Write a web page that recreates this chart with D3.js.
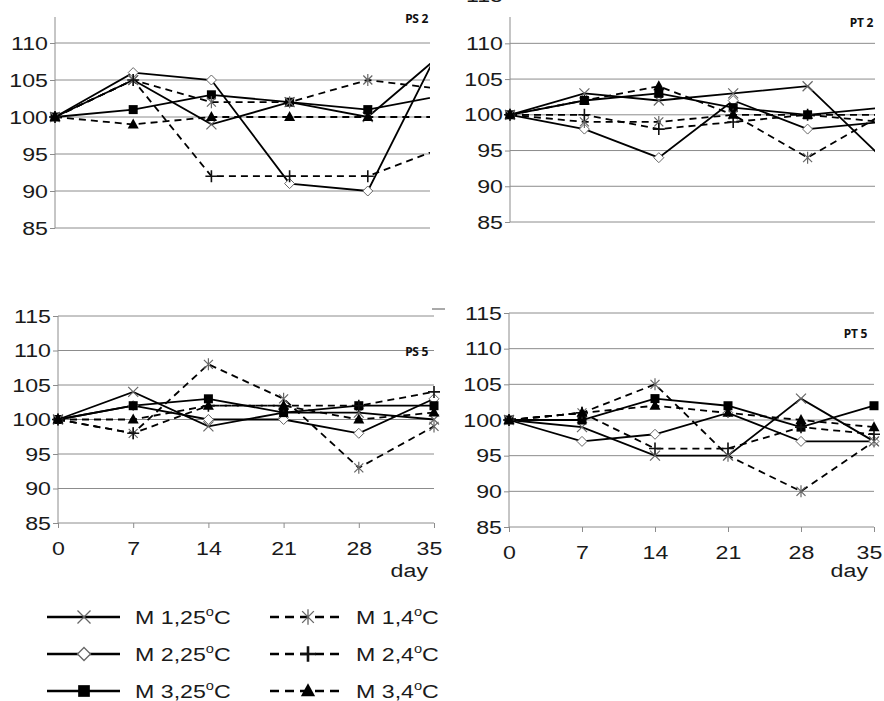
<!DOCTYPE html>
<html>
<head>
<meta charset="utf-8">
<script src="https://cdn.jsdelivr.net/npm/d3@7"></script>
<style>
  body { margin: 0; background: #fff; }
  svg { display: block; font-family: "Liberation Sans", Arial, sans-serif; }
</style>
</head>
<body>
<div id="chart-area"></div>
<script>
// days on the x axis
const days = [0, 7, 14, 21, 28, 35]
const seriesNames = ["M 1,25", "M 2,25", "M 3,25", "M 1,4", "M 2,4", "M 3,4"]
const yTicksTop = [85, 90, 95, 100, 105, 110]
const yTicksBottom = [85, 90, 95, 100, 105, 110, 115]

// one row per series, same order as seriesNames
const ps2Values = [
  [100, 105, 99, 102, 100, 109],
  [100, 106, 105, 91, 90, 111],
  [100, 101, 103, 102, 101, 103],
  [100, 105, 102, 102, 105, 103.7],
  [100, 105, 92, 92, 92, 96],
  [100, 99, 100, 100, 100, 100]
]
const pt2Values = [
  [100, 103, 102, 103, 104, 94],
  [100, 98, 94, 102, 98, 99],
  [100, 102, 103, 101, 100, 101],
  [100, 99, 99, 100, 94, 100],
  [100, 100, 98, 99, 100, 99],
  [100, 102, 104, 100, 100, 100]
]
const ps5Values = [
  [100, 104, 99, 101, 101, 100],
  [100, 102, 100, 100, 98, 103],
  [100, 102, 103, 101, 102, 102],
  [100, 98, 108, 103, 93, 99],
  [100, 98, 102, 102, 102, 104],
  [100, 100, 102, 102, 100, 101]
]
const pt5Values = [
  [100, 99, 95, 95, 103, 97],
  [100, 97, 98, 101, 97, 97],
  [100, 100, 103, 102, 99, 102],
  [100, 101, 105, 95, 90, 97],
  [100, 101, 96, 96, 99, 98],
  [100, 101, 102, 101, 100, 99]
]

const SX = 1.22   // the picture is stretched sideways a little
const GRID = "#8c8c8c"
const INK = "#1a1a1a"

const svg = d3.select("#chart-area").append("svg")
  .attr("width", 884)
  .attr("height", 701)
const defs = svg.append("defs")

const markerPaths = {
  cross: "M-5,-5L5,5M-5,5L5,-5",
  diamond: "M0,-5L5,0L0,5L-5,0Z",
  square: "M-4.5,-4.5h9v9h-9Z",
  star: "M-4.5,-4.5L4.5,4.5M-4.5,4.5L4.5,-4.5M0,-6L0,6",
  plus: "M-6,0L6,0M0,-6L0,6",
  triangle: "M0,-6L5.5,4L-5.5,4Z"
}
const markerTypes = ["cross", "diamond", "square", "star", "plus", "triangle"]

function drawMarker(sel, type, grey) {
  const p = sel.append("path").attr("d", markerPaths[type])
  if (type === "square" || type === "triangle") {
    p.attr("fill", "#000")
  } else if (type === "diamond") {
    p.attr("fill", "#fff").attr("stroke", "#666").attr("stroke-width", 1)
  } else {
    p.attr("fill", "none")
      .attr("stroke", grey ? "#666" : "#111")
      .attr("stroke-width", type === "plus" ? 1.6 : 1.2)
  }
  return p
}

function addText(g, x, y, str, size, anchor) {
  return g.append("text")
    .attr("transform", `translate(${x},${y}) scale(${SX},1)`)
    .attr("font-size", size + "px")
    .attr("text-anchor", anchor || "start")
    .attr("fill", INK)
    .text(str)
}

const panels = [
  { id: "ps2", tag: "PS 2", values: ps2Values, x0: 55, x35: 446, right: 430, y85: 228, y115: 6, top: 17,
    ticks: yTicksTop, xAxis: false, tagX: 428, tagY: 23 },
  { id: "pt2", tag: "PT 2", values: pt2Values, x0: 510, x35: 882, right: 875, y85: 222, y115: 7.6, top: 17,
    ticks: yTicksTop, xAxis: false, tagX: 873, tagY: 27, extra115: true },
  { id: "ps5", tag: "PS 5", values: ps5Values, x0: 58, x35: 434, right: 434, y85: 523, y115: 316, top: 316,
    ticks: yTicksBottom, xAxis: true, tagX: 428, tagY: 356 },
  { id: "pt5", tag: "PT 5", values: pt5Values, x0: 509, x35: 874, right: 874, y85: 527, y115: 313, top: 313,
    ticks: yTicksBottom, xAxis: true, tagX: 867, tagY: 338 }
]

panels.forEach(p => {
  const x = d3.scaleLinear().domain([0, 35]).range([p.x0, p.x35])
  const y = d3.scaleLinear().domain([85, 115]).range([p.y85, p.y115])
  const g = svg.append("g")

  // gridlines
  g.selectAll(".grid")
    .data(p.ticks)
    .join("line")
    .attr("x1", p.x0).attr("x2", p.right)
    .attr("y1", d => y(d)).attr("y2", d => y(d))
    .attr("stroke", GRID).attr("stroke-width", 1)

  // y axis
  const yAxis = g.append("g")
    .attr("transform", `translate(${p.x0},0)`)
    .call(d3.axisLeft(y).tickValues(p.ticks).tickSize(5).tickSizeOuter(0))
  yAxis.select(".domain").remove()
  yAxis.selectAll("line").attr("stroke", GRID)
  yAxis.selectAll("text")
    .attr("font-size", "19px")
    .attr("font-family", "Liberation Sans, Arial, sans-serif")
    .attr("fill", INK)
    .attr("x", -7 / SX)
    .attr("transform", `scale(${SX},1)`)
  g.append("line")
    .attr("x1", p.x0).attr("x2", p.x0)
    .attr("y1", p.top).attr("y2", y(85))
    .attr("stroke", GRID)

  if (p.extra115) {
    addText(g, p.x0 - 7, 2, "115", 19, "end")
  }

  // x axis
  if (p.xAxis) {
    const xAxis = g.append("g")
      .attr("transform", `translate(0,${y(85)})`)
      .call(d3.axisBottom(x).tickValues(days).tickSize(5).tickSizeOuter(0).tickPadding(14))
    xAxis.select(".domain").remove()
    xAxis.selectAll("line").attr("stroke", GRID)
    xAxis.selectAll("text")
      .attr("font-size", "19px")
      .attr("font-family", "Liberation Sans, Arial, sans-serif")
      .attr("fill", INK)
      .attr("x", d => d === 35 ? -5 / SX : 0)
      .attr("transform", `scale(${SX},1)`)
    addText(g, p.x35 - 6, 577, "day", 19, "end")
  }

  // panel tag
  g.append("text")
    .attr("x", p.tagX).attr("y", p.tagY)
    .attr("text-anchor", "end")
    .attr("font-family", "Noto Sans, sans-serif")
    .attr("font-weight", "bold")
    .attr("font-size", "12px")
    .attr("letter-spacing", "-0.3")
    .attr("fill", "#111")
    .text(p.tag)

  // series, clipped to the visible plot
  defs.append("clipPath").attr("id", "clip-" + p.id)
    .append("rect")
    .attr("x", p.x0 - 8).attr("y", p.top - 8)
    .attr("width", p.right - p.x0 + 16 - (p.xAxis ? 0 : 8))
    .attr("height", y(85) - p.top + 16)
  const plot = g.append("g").attr("clip-path", `url(#clip-${p.id})`)

  const line = d3.line()
    .x((d, i) => x(days[i]))
    .y(d => y(d))

  plot.selectAll(".series")
    .data(p.values)
    .join("path")
    .attr("d", line)
    .attr("fill", "none")
    .attr("stroke", "#000")
    .attr("stroke-width", 1.8)
    .attr("stroke-dasharray", (d, i) => i >= 3 ? "7,5" : null)

  p.values.forEach((vals, s) => {
    vals.forEach((v, i) => {
      const m = plot.append("g").attr("transform", `translate(${x(days[i])},${y(v)})`)
      drawMarker(m, markerTypes[s], s === 0 || s === 3)
    })
  })
})

// small stray dash at the corner of the lower-left panel
svg.append("line")
  .attr("x1", 432).attr("x2", 445)
  .attr("y1", 309).attr("y2", 309)
  .attr("stroke", "#555").attr("stroke-width", 1)

// legend
const legend = svg.append("g")
const legendRowsY = [617, 654, 691]
seriesNames.forEach((name, i) => {
  const col = i < 3 ? 0 : 1
  const row = i % 3
  const ly = legendRowsY[row]
  const x1 = col === 0 ? 47 : 270
  const x2 = col === 0 ? 120 : 340
  const mx = col === 0 ? 84 : 308
  const tx = col === 0 ? 135 : 356
  legend.append("line")
    .attr("x1", x1).attr("x2", x2)
    .attr("y1", ly).attr("y2", ly)
    .attr("stroke", "#000")
    .attr("stroke-width", 2.4)
    .attr("stroke-dasharray", col === 1 ? "9,6" : null)
  const m = legend.append("g").attr("transform", `translate(${mx},${ly}) scale(1.3)`)
  drawMarker(m, markerTypes[i], i === 0 || i === 1 || i === 3)
    .attr("stroke-width", i === 4 ? 2 : 1)

  const t = addText(legend, tx, ly + 7, "", 19)
  t.append("tspan").text(name)
  t.append("tspan").attr("font-size", "12px").attr("dy", "-8").text("o")
  t.append("tspan").attr("dy", "8").text("C")
})
</script>
</body>
</html>
